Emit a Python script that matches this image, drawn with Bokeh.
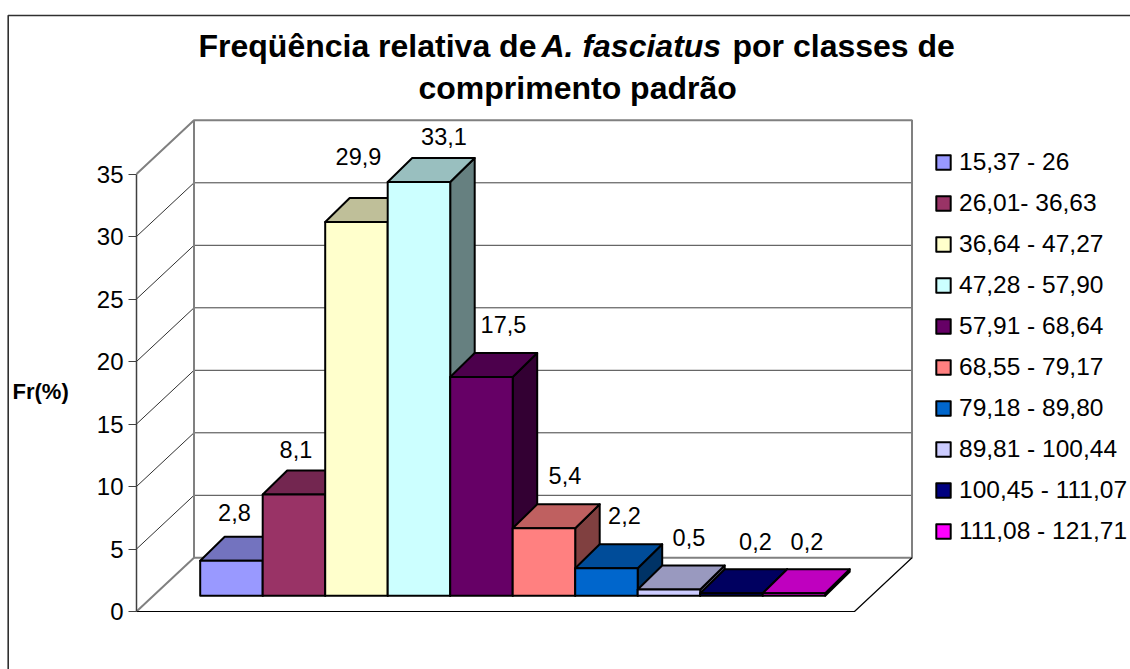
from bokeh.plotting import figure
from bokeh.models import Range1d, LinearAxis, FixedTicker, Legend, LegendItem, Label, ColumnDataSource
from bokeh.core.properties import value
from bokeh.embed import file_html
from bokeh.resources import INLINE

# ---- data ----
classes = ["15,37 - 26", "26,01- 36,63", "36,64 - 47,27", "47,28 - 57,90", "57,91 - 68,64",
           "68,55 - 79,17", "79,18 - 89,80", "89,81 - 100,44", "100,45 - 111,07", "111,08 - 121,71"]
fr_values = [2.8, 8.1, 29.9, 33.1, 17.5, 5.4, 2.2, 0.5, 0.2, 0.2]
value_labels = ["2,8", "8,1", "29,9", "33,1", "17,5", "5,4", "2,2", "0,5", "0,2", "0,2"]
y_ticks = [0, 5, 10, 15, 20, 25, 30, 35]

# ---- styles ----
front_colors = ["#9999FF", "#993366", "#FFFFCC", "#CCFFFF", "#660066", "#FF8080", "#0066CC", "#CCCCFF", "#000080", "#FF00FF"]
top_colors = ["#7373BF", "#732650", "#BFBF99", "#99BFBF", "#4C004C", "#BF6060", "#004C99", "#9999BF", "#000060", "#BF00BF"]
side_colors = ["#4D4D80", "#4D1A33", "#808066", "#668080", "#330033", "#804040", "#003366", "#666680", "#000040", "#800080"]
label_dx = [3, 2, 2, 25, 22, 21, 18, 20, 24, 13]
label_dy = [24, 21, 42, 22, 29, 29, 29, 28, 28, 28]

# ---- layout: one bar = 62.5 px, one unit = 12.5 px ----
PX_X, PX_Y = 62.5, 12.5
X0_PAGE, Y0_PAGE = 199.7, 611.0
def px(x): return (x - X0_PAGE) / PX_X
def py(y): return (Y0_PAGE - y) / PX_Y

FONT = "Liberation Sans"
BAR_BASE = py(595.3)
BAR_DX, BAR_DY = 24.5 / PX_X, 24 / PX_Y
WALL_DX, WALL_DY = 57.5 / PX_X, 53.7 / PX_Y
FLOOR_L, FLOOR_R = px(136), px(854)
GRAY = "#808080"

p = figure(width=1130, height=669, output_backend="svg", toolbar_location=None,
           x_range=Range1d(px(0), px(1130)), y_range=Range1d(py(669), py(0)),
           min_border_left=0, min_border_right=0, min_border_top=0, min_border_bottom=0,
           x_axis_location=None, y_axis_location=None, outline_line_color=None)
p.grid.visible = False

axis = LinearAxis(ticker=FixedTicker(ticks=y_ticks), bounds=(0, 35), fixed_location=FLOOR_L)
axis.major_tick_out = 8
axis.major_tick_in = 0
axis.minor_tick_out = 0
axis.minor_tick_in = 0
axis.major_tick_line_color = "#404040"
axis.axis_line_color = "#404040"
axis.axis_line_width = 1.5
axis.major_label_text_font = FONT
axis.major_label_text_font_size = "24px"
axis.major_label_text_color = "black"
axis.major_label_standoff = 5
p.add_layout(axis, "left")

# y-axis title
p.add_layout(Label(x=px(12), y=py(391), text="Fr(%)", text_font=FONT, text_font_size="22px",
                   text_font_style="bold", text_color="black", text_baseline="middle"))

# chart-area border
p.line([px(7.7), px(7.7), px(1130)], [py(669), py(15), py(15)], line_color="#303030", line_width=1.6)

# walls
grid_vals = y_ticks[1:-1]
p.multi_line([[FLOOR_L, FLOOR_L + WALL_DX] for _ in grid_vals],
             [[v, v + WALL_DY] for v in grid_vals], line_color="#303030", line_width=1)
p.multi_line([[FLOOR_L + WALL_DX, FLOOR_R + WALL_DX] for _ in grid_vals],
             [[v + WALL_DY, v + WALL_DY] for v in grid_vals], line_color="#404040", line_width=1)
p.line([FLOOR_L, FLOOR_L + WALL_DX, FLOOR_R + WALL_DX, FLOOR_R + WALL_DX, FLOOR_L + WALL_DX, FLOOR_L + WALL_DX],
       [35, 35 + WALL_DY, 35 + WALL_DY, WALL_DY, WALL_DY, 35 + WALL_DY], line_color=GRAY, line_width=2)
p.line([FLOOR_L, FLOOR_L + WALL_DX], [0, WALL_DY], line_color=GRAY, line_width=2)
p.line([FLOOR_L, FLOOR_R, FLOOR_R + WALL_DX], [0, 0, WALL_DY], line_color="black", line_width=1.2)

# bars
items = []
for i, v in enumerate(fr_values):
    style = dict(line_color="black", line_width=2, line_join="round")
    p.patch([i + 1, i + 1 + BAR_DX, i + 1 + BAR_DX, i + 1],
            [BAR_BASE, BAR_BASE + BAR_DY, BAR_BASE + v + BAR_DY, BAR_BASE + v],
            fill_color=side_colors[i], **style)
    p.patch([i, i + BAR_DX, i + 1 + BAR_DX, i + 1],
            [BAR_BASE + v, BAR_BASE + v + BAR_DY, BAR_BASE + v + BAR_DY, BAR_BASE + v],
            fill_color=top_colors[i], **style)
    r = p.quad(left=[i], right=[i + 1], bottom=[BAR_BASE], top=[BAR_BASE + v],
               fill_color=front_colors[i], **style)
    items.append(LegendItem(label=classes[i], renderers=[r]))

# value labels
src = ColumnDataSource(dict(
    x=[i + 0.5 for i in range(len(fr_values))],
    y=[BAR_BASE + v + BAR_DY for v in fr_values],
    t=value_labels, dx=label_dx, dy=[-d for d in label_dy]))
p.text("x", "y", text="t", x_offset="dx", y_offset="dy", source=src, text_align="center",
       text_baseline="middle", text_font=value(FONT), text_font_size="23.5px", text_color="black")

# legend
legend = Legend(items=items, location=(934, 124), padding=0, margin=0, spacing=13,
                glyph_width=18, glyph_height=18, label_height=20, label_standoff=7,
                label_text_font=FONT, label_text_font_size="24.5px", label_text_color="black",
                background_fill_alpha=0, border_line_color=None)
p.add_layout(legend, "center")

# title
for txt, x, y, style in [("Freqüência relativa de", 198, 45, "bold"),
                         ("A. fasciatus", 541, 45, "bold italic"),
                         ("por classes de", 732, 45, "bold"),
                         ("comprimento padrão", 418, 87, "bold")]:
    p.add_layout(Label(x=px(x), y=py(y), text=txt, text_font=FONT, text_font_size="32px",
                       text_font_style=style, text_color="black", text_baseline="alphabetic"))

open("out.html", "w").write(file_html(p, INLINE))
